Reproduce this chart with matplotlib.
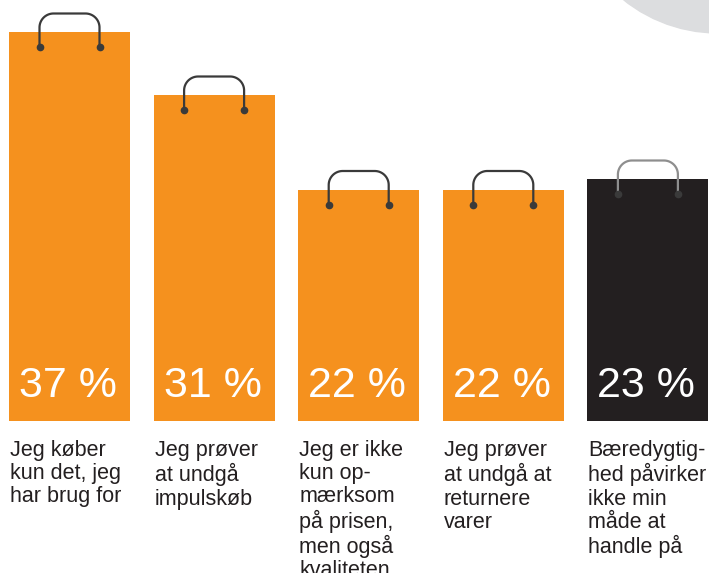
import numpy as np
import matplotlib
matplotlib.use("Agg")
import matplotlib.pyplot as plt
from matplotlib.patches import Circle

plt.rcParams['font.family'] = ['Liberation Sans', 'DejaVu Sans']

# data
labels = ["Jeg køber\nkun det, jeg\nhar brug for",
          "Jeg prøver\nat undgå\nimpulskøb",
          "Jeg er ikke\nkun op-\nmærksom\npå prisen,\nmen også\nkvaliteten",
          "Jeg prøver\nat undgå at\nreturnere\nvarer",
          "Bæredygtig-\nhed påvirker\nikke min\nmåde at\nhandle på"]
values = [37, 31, 22, 22, 23]
colors = ["#f5911e", "#f5911e", "#f5911e", "#f5911e", "#231f20"]
handle_colors = ["#3a3a3a", "#3a3a3a", "#3a3a3a", "#3a3a3a", "#8e8e8e"]

W, H = 709, 573
fig = plt.figure(figsize=(W / 100, H / 100), dpi=100)
ax = fig.add_axes([0, 0, 1, 1])

# pixel -> data scale
sx = 144.6   # px per bar slot
sy = 10.5    # px per percent
x0 = -69.5 / sx
ax.set_xlim(x0, x0 + W / sx)
ax.set_ylim(-(H - 421) / sy, 421 / sy)
ax.axis("off")

# grey circle top-right
circ = Circle((718, H + 118), 151, transform=None, color="#dcdddf", zorder=0)
fig.patches.append(circ)

width = 121 / sx
x = np.arange(len(values))
ax.bar(x, values, width=width, color=colors, zorder=2)


def handle(cx, top, col):
    hw = 30 / sx
    up = 19 / sy
    down = 15 / sy
    r = 14
    t = np.linspace(0, np.pi / 2, 20)
    lx = cx - hw
    rx = cx + hw
    ytop = top + up
    pts = [(lx, top - down), (lx, ytop - r / sy)]
    for a in t:
        pts.append((lx + (r - r * np.cos(a)) / sx, ytop - r / sy + r * np.sin(a) / sy))
    for a in t[::-1]:
        pts.append((rx - (r - r * np.cos(a)) / sx, ytop - r / sy + r * np.sin(a) / sy))
    pts.append((rx, top - down))
    pts = np.array(pts)
    ax.plot(pts[:, 0], pts[:, 1], color=col, lw=1.6, zorder=3, solid_capstyle="round")
    ax.plot([lx, rx], [top - down, top - down], "o", color="#3a3a3a", ms=4.5, zorder=4)


for i, v in enumerate(values):
    handle(x[i], v, handle_colors[i])
    ax.text(x[i] - width / 2 + 10 / sx, 24 / sy, f"{v} %", color="white",
            fontsize=31, ha="left", va="baseline", zorder=5)
    ax.text(x[i] - width / 2 + 1 / sx, -19 / sy, labels[i], color="#231f20",
            fontsize=15.5, ha="left", va="top", linespacing=1.13)

fig.savefig("out.png", dpi=100, facecolor="w")
